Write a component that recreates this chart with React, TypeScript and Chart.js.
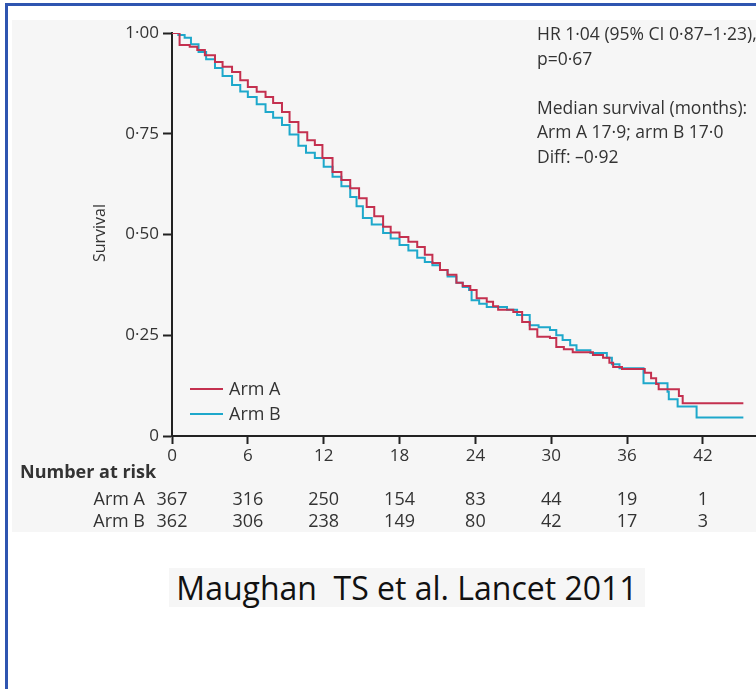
import { useEffect, useRef } from "react";
import { Chart, registerables } from "chart.js";

Chart.register(...registerables);

// Axis ticks
const xTicks = [0, 6, 12, 18, 24, 30, 36, 42];
const yTicks = [0, 0.25, 0.5, 0.75, 1];
const yTickLabels = ["0", "0·25", "0·50", "0·75", "1·00"];

// Kaplan–Meier estimates (months, survival) for each arm
const armAMonths = [
  0, 0.6, 1.4, 2.0, 2.6, 3.4, 4.0, 4.75, 5.4, 6.0, 6.7, 7.4, 8.0, 8.7, 9.3, 10.0,
  10.7, 11.3, 11.9, 12.7, 13.4, 14.1, 14.8, 15.4, 16.0, 16.7, 17.3, 18.0, 18.7,
  19.4, 20.0, 20.6, 21.2, 21.8, 22.5, 23.0, 23.6, 24.1, 24.9, 25.4, 25.8, 27.0,
  27.7, 28.3, 28.9, 29.9, 30.4, 31.0, 31.7, 33.3, 34.1, 34.6, 34.9, 35.6, 37.4,
  37.9, 38.3, 38.5, 40.1, 40.4, 45.2,
];
const armASurvival = [
  1.0, 0.97, 0.966, 0.958, 0.945, 0.928, 0.916, 0.903, 0.883, 0.866, 0.854, 0.841,
  0.826, 0.804, 0.779, 0.754, 0.734, 0.722, 0.69, 0.655, 0.635, 0.615, 0.59, 0.568,
  0.545, 0.519, 0.505, 0.494, 0.482, 0.469, 0.45, 0.429, 0.412, 0.4, 0.38, 0.372,
  0.362, 0.342, 0.333, 0.322, 0.313, 0.308, 0.283, 0.265, 0.246, 0.243, 0.221,
  0.215, 0.208, 0.201, 0.194, 0.182, 0.171, 0.166, 0.157, 0.143, 0.129, 0.116,
  0.099, 0.081, 0.081,
];
const armBMonths = [
  0, 0.5, 1.0, 1.5, 2.1, 2.7, 3.4, 4.0, 4.75, 5.4, 6.0, 6.7, 7.4, 8.0, 8.7, 9.3,
  10.0, 10.6, 11.3, 12.0, 12.7, 13.4, 14.1, 14.6, 15.1, 15.8, 16.7, 17.3, 18.0,
  18.7, 19.4, 20.0, 20.6, 21.2, 21.8, 22.5, 23.0, 23.5, 23.7, 24.3, 24.9, 26.5,
  27.3, 28.3, 29.0, 29.9, 30.4, 30.9, 31.5, 32.0, 33.1, 34.4, 34.8, 35.4, 37.3,
  39.2, 39.3, 40.0, 41.5, 45.2,
];
const armBSurvival = [
  1.0, 0.995, 0.988, 0.972, 0.953, 0.935, 0.913, 0.893, 0.871, 0.855, 0.841, 0.823,
  0.804, 0.79, 0.772, 0.748, 0.72, 0.703, 0.69, 0.668, 0.643, 0.62, 0.593, 0.57,
  0.541, 0.525, 0.504, 0.49, 0.474, 0.46, 0.442, 0.432, 0.424, 0.412, 0.396, 0.38,
  0.37, 0.362, 0.337, 0.328, 0.32, 0.313, 0.3, 0.275, 0.27, 0.263, 0.25, 0.238,
  0.225, 0.213, 0.206, 0.194, 0.178, 0.168, 0.131, 0.11, 0.091, 0.073, 0.046,
  0.046,
];

// Number at risk at each x tick
const riskArmA = [367, 316, 250, 154, 83, 44, 19, 1];
const riskArmB = [362, 306, 238, 149, 80, 42, 17, 3];

const seriesNames = ["Arm A", "Arm B"];
const seriesColors = ["#c4304f", "#1ea8cb"];

const statLines = [
  "HR 1·04 (95% CI 0·87–1·23),",
  "p=0·67",
  "",
  "Median survival (months):",
  "Arm A 17·9; arm B 17·0",
  "Diff: –0·92",
];

const citation = "Maughan  TS et al. Lancet 2011";

const FONT = "'Open Sans', 'DejaVu Sans', sans-serif";
const TEXT = "#333333";
const AXIS = "#222222";
const CANVAS_W = 756;
const CANVAS_H = 540;

const extrasPlugin = {
  id: "kmExtras",
  afterDraw(chart: any) {
    const { ctx } = chart;
    const xs = chart.scales.x;
    ctx.save();
    ctx.fillStyle = TEXT;

    // y-axis title
    ctx.save();
    ctx.translate(100, 233);
    ctx.rotate(-Math.PI / 2);
    ctx.font = `16px ${FONT}`;
    ctx.textAlign = "center";
    ctx.textBaseline = "middle";
    ctx.fillText("Survival", 0, 0);
    ctx.restore();

    // statistics block
    ctx.font = `17.5px ${FONT}`;
    ctx.textAlign = "left";
    ctx.textBaseline = "alphabetic";
    statLines.forEach((line, i) => {
      if (line) ctx.fillText(line, 537, 40 + i * 24.5);
    });

    // legend
    const legendY = [389, 414];
    seriesNames.forEach((name, i) => {
      ctx.strokeStyle = seriesColors[i];
      ctx.lineWidth = 2;
      ctx.beginPath();
      ctx.moveTo(190, legendY[i]);
      ctx.lineTo(223, legendY[i]);
      ctx.stroke();
      ctx.fillStyle = TEXT;
      ctx.font = `18px ${FONT}`;
      ctx.textAlign = "left";
      ctx.textBaseline = "middle";
      ctx.fillText(name, 229, legendY[i] + 1);
    });

    // number at risk table
    ctx.textBaseline = "alphabetic";
    ctx.font = `bold 18px ${FONT}`;
    ctx.textAlign = "left";
    ctx.fillText("Number at risk", 20, 478);
    const rows = [riskArmA, riskArmB];
    const rowY = [505, 527];
    rows.forEach((row, r) => {
      ctx.font = `18px ${FONT}`;
      ctx.textAlign = "right";
      ctx.fillText(seriesNames[r], 145, rowY[r]);
      ctx.textAlign = "center";
      row.forEach((n, i) => {
        ctx.fillText(String(n), xs.getPixelForValue(xTicks[i]), rowY[r]);
      });
    });
    ctx.restore();
  },
};

function KmChart() {
  const ref = useRef<HTMLCanvasElement | null>(null);

  useEffect(() => {
    if (!ref.current) return;
    const toPoints = (m: number[], s: number[]) => m.map((t, i) => ({ x: t, y: s[i] }));
    const chart = new Chart(ref.current, {
      type: "line",
      data: {
        datasets: [
          {
            label: seriesNames[0],
            data: toPoints(armAMonths, armASurvival),
            borderColor: seriesColors[0],
            borderWidth: 2,
            pointRadius: 0,
            stepped: true,
            fill: false,
          },
          {
            label: seriesNames[1],
            data: toPoints(armBMonths, armBSurvival),
            borderColor: seriesColors[1],
            borderWidth: 2,
            pointRadius: 0,
            stepped: true,
            fill: false,
          },
        ],
      },
      options: {
        animation: false,
        responsive: false,
        devicePixelRatio: 1,
        layout: { padding: { top: 33, left: 0, right: 0, bottom: 0 } },
        plugins: { legend: { display: false }, tooltip: { enabled: false } },
        events: [],
        scales: {
          x: {
            type: "linear",
            min: 0,
            max: 46.2,
            afterBuildTicks: (s: any) => {
              s.ticks = xTicks.map((v) => ({ value: v }));
            },
            afterFit: (s: any) => {
              s.height = CANVAS_H - 436;
            },
            grid: {
              drawOnChartArea: false,
              drawTicks: true,
              tickLength: 8,
              tickColor: AXIS,
              tickWidth: 2,
            },
            border: { display: true, color: AXIS, width: 2 },
            ticks: {
              font: { family: FONT, size: 17 },
              color: TEXT,
              padding: 2,
              maxRotation: 0,
              autoSkip: false,
              callback: (v: any) => String(v),
            },
          },
          y: {
            type: "linear",
            min: 0,
            max: 1,
            afterBuildTicks: (s: any) => {
              s.ticks = yTicks.map((v) => ({ value: v }));
            },
            afterFit: (s: any) => {
              s.width = 172;
            },
            grid: {
              drawOnChartArea: false,
              drawTicks: true,
              tickLength: 9,
              tickColor: AXIS,
              tickWidth: 2,
            },
            border: { display: true, color: AXIS, width: 2 },
            ticks: {
              font: { family: FONT, size: 17 },
              color: TEXT,
              padding: 4,
              callback: (_v: any, i: number) => yTickLabels[i],
            },
          },
        },
      },
      plugins: [extrasPlugin],
    });
    return () => chart.destroy();
  }, []);

  return (
    <canvas
      ref={ref}
      width={CANVAS_W}
      height={CANVAS_H}
      style={{ position: "absolute", left: 0, top: 0, width: CANVAS_W, height: CANVAS_H }}
    />
  );
}

export default function App() {
  return (
    <div
      style={{
        position: "fixed",
        left: 0,
        top: 0,
        width: 756,
        height: 689,
        background: "#ffffff",
        overflow: "hidden",
      }}
    >
      {/* frame */}
      <div style={{ position: "absolute", left: 5, top: 3, width: 751, height: 3, background: "#2f55b0" }} />
      <div style={{ position: "absolute", left: 5, top: 3, width: 3, height: 686, background: "#2f55b0" }} />
      {/* figure panel */}
      <div style={{ position: "absolute", left: 12, top: 20, width: 744, height: 512, background: "#f6f6f6" }} />
      <KmChart />
      {/* citation */}
      <div
        style={{
          position: "absolute",
          left: 169,
          top: 568,
          width: 476,
          height: 39,
          background: "#f6f6f6",
          fontFamily: FONT,
          fontSize: 32,
          lineHeight: "39px",
          color: "#111111",
          whiteSpace: "pre",
          textAlign: "center",
        }}
      >
        {citation}
      </div>
    </div>
  );
}
